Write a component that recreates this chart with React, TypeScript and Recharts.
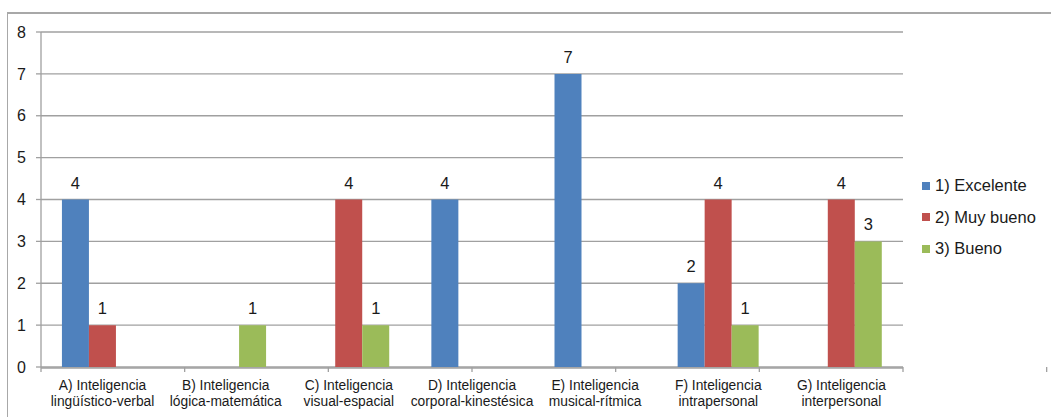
import { Bar, BarChart, CartesianGrid, LabelList, Legend, XAxis, YAxis } from "recharts"

const categoryLines = [
  ["A) Inteligencia", "lingüístico-verbal"],
  ["B) Inteligencia", "lógica-matemática"],
  ["C) Inteligencia", "visual-espacial"],
  ["D) Inteligencia", "corporal-kinestésica"],
  ["E) Inteligencia", "musical-rítmica"],
  ["F) Inteligencia", "intrapersonal"],
  ["G) Inteligencia", "interpersonal"],
]

const excelente = [4, 0, 0, 4, 7, 2, 0]
const muyBueno = [1, 0, 4, 0, 0, 4, 4]
const bueno = [0, 1, 1, 0, 0, 1, 3]

const yTicks = [0, 1, 2, 3, 4, 5, 6, 7, 8]
const boundaryTicks = [0, 1, 2, 3, 4, 5, 6, 7]

const series = [
  { key: "excelente", name: "1) Excelente", color: "#4F81BD" },
  { key: "muyBueno", name: "2) Muy bueno", color: "#C0504D" },
  { key: "bueno", name: "3) Bueno", color: "#9BBB59" },
]

const data = categoryLines.map((lines, i) => ({
  name: lines.join(" "),
  excelente: excelente[i],
  muyBueno: muyBueno[i],
  bueno: bueno[i],
}))

const FONT = "'Liberation Sans', Arial, sans-serif"
const TEXT = "#1a1a1a"
const GRID = "#a0a0a0"

function CategoryTick(props: any) {
  const { x, y, index } = props
  const lines = categoryLines[index] || []
  return (
    <text x={x} y={y} textAnchor="middle" fontFamily={FONT} fontSize={13.8} fill={TEXT}>
      {lines.map((l, i) => (
        <tspan key={i} x={x} dy={i === 0 ? 13.5 : 16.5}>
          {l}
        </tspan>
      ))}
    </text>
  )
}

function EmptyTick() {
  return <g />
}

function LegendBox() {
  return (
    <div style={{ fontFamily: FONT, fontSize: 16.5, color: TEXT }}>
      {series.map((s) => (
        <div key={s.key} style={{ display: "flex", alignItems: "center", height: 31.5 }}>
          <span style={{ width: 8, height: 8, background: s.color, marginRight: 5, display: "inline-block" }} />
          <span>{s.name}</span>
        </div>
      ))}
    </div>
  )
}

export default function App() {
  return (
    <div style={{ position: "absolute", left: 0, top: 0, width: 1051, height: 417, overflow: "hidden", background: "#fff" }}>
      <div
        style={{
          position: "absolute",
          left: 7,
          top: 12,
          width: 1100,
          height: 500,
          borderTop: "2px solid #a8a8a8",
          borderLeft: "1.5px solid #a8a8a8",
        }}
      />
      <div style={{ position: "absolute", left: 0, top: 0 }}>
        <BarChart
          width={1051}
          height={417}
          data={data}
          margin={{ top: 32, right: 148, bottom: 0, left: 0 }}
          barCategoryGap="17%"
          barGap={0}
        >
          <CartesianGrid vertical={false} stroke={GRID} strokeWidth={1.3} />
          <XAxis
            xAxisId="b"
            type="number"
            domain={[0, 7]}
            ticks={boundaryTicks}
            allowDataOverflow
            height={1}
            tick={<EmptyTick />}
            axisLine={false}
            tickSize={5}
            tickLine={{ stroke: GRID, strokeWidth: 1.3 }}
          />
          <XAxis
            xAxisId="cat"
            dataKey="name"
            height={49}
            interval={0}
            tickLine={false}
            axisLine={{ stroke: GRID, strokeWidth: 1.3 }}
            tick={<CategoryTick />}
          />
          <YAxis
            width={41}
            domain={[0, 8]}
            ticks={yTicks}
            interval={0}
            tickSize={5}
            tickMargin={10}
            axisLine={{ stroke: GRID, strokeWidth: 1.3 }}
            tickLine={{ stroke: GRID, strokeWidth: 1.3 }}
            tick={{ fontFamily: FONT, fontSize: 16, fill: TEXT }}
          />
          <Legend
            layout="vertical"
            align="center"
            verticalAlign="middle"
            content={<LegendBox />}
            wrapperStyle={{ position: "absolute", left: 922, top: 170, width: 130 }}
          />
          {series.map((s) => (
            <Bar key={s.key} xAxisId="cat" dataKey={s.key} name={s.name} fill={s.color} isAnimationActive={false}>
              <LabelList
                dataKey={s.key}
                position="top"
                offset={11}
                formatter={(v: any) => (v === 0 ? "" : v)}
                style={{ fontFamily: FONT, fontSize: 16.5, fill: TEXT }}
              />
            </Bar>
          ))}
        </BarChart>
      </div>
    </div>
  )
}
